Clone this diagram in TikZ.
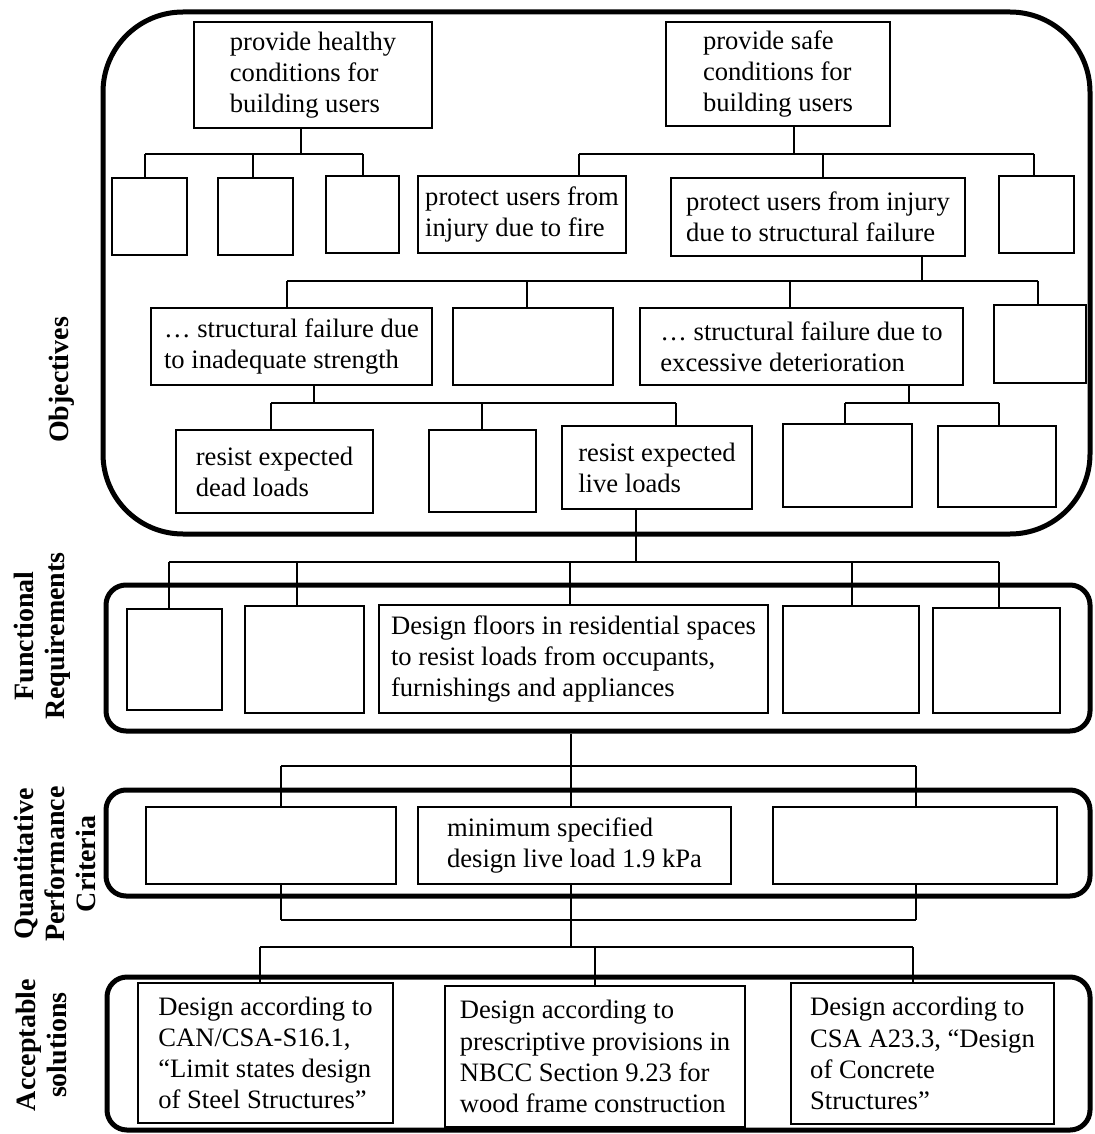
\documentclass[tikz,border=0pt]{standalone}
\usepackage{fontspec}
\setmainfont{Liberation Serif}
\usetikzlibrary{fit}
\newdimen\pxu \pxu=0.5pt
\begin{document}
\begin{tikzpicture}[x=0.5pt,y=-0.5pt,box/.style={draw,line width=1pt,inner sep=0pt,align=left,font=\fontsize{13.3}{15.6}\selectfont},frame/.style={draw,line width=2.5pt,inner sep=0pt},link/.style={line width=0.9pt},lab/.style={rotate=90,align=center,font=\fontsize{14}{15.5}\selectfont\bfseries}]
\useasboundingbox (0,0) rectangle (1094,1134);
% frames of the four levels
\node[frame,rounded corners=40pt,fit={(103,12)(1090,534)}] (objF) {};
\node[frame,rounded corners=10pt,fit={(106,585)(1090,731)}] (funF) {};
\node[frame,rounded corners=10pt,fit={(106,790)(1090,896)}] (qpcF) {};
\node[frame,rounded corners=10pt,fit={(107,977)(1090,1130)}] (accF) {};
\node[lab] (objL) at (62,380) {Objectives};
\node[lab] (funL) at (42,636) {Functional\\Requirements};
\node[lab] (qpcL) at (55,864) {Quantitative\\Performance\\Criteria};
\node[lab] (accL) at (41,1045) {Acceptable\\solutions};
% objectives
\node[box,minimum width=238\pxu,minimum height=106\pxu] (heal) at (313,75) {provide healthy\\conditions for\\building users};
\node[box,minimum width=224\pxu,minimum height=104\pxu] (safe) at (778,74) {provide safe\\conditions for\\building users};
\node[box,minimum width=75\pxu,minimum height=77\pxu] (h1) at (149.5,216.5) {};
\node[box,minimum width=75\pxu,minimum height=77\pxu] (h2) at (255.5,216.5) {};
\node[box,minimum width=73\pxu,minimum height=77\pxu] (h3) at (362.5,214.5) {};
\node[box,minimum width=208\pxu,minimum height=77\pxu] (fire) at (522,214.5) {protect users from\\injury due to fire};
\node[box,minimum width=294\pxu,minimum height=78\pxu] (struct) at (818,217) {protect users from injury\\due to structural failure};
\node[box,minimum width=75\pxu,minimum height=77\pxu] (s4) at (1036.5,214.5) {};
\node[box,minimum width=281\pxu,minimum height=77\pxu] (strength) at (291.5,346.5) {… structural failure due\\to inadequate strength};
\node[box,minimum width=160\pxu,minimum height=77\pxu] (t2) at (533,346.5) {};
\node[box,minimum width=323\pxu,minimum height=77\pxu] (deter) at (801.5,346.5) {… structural failure due to\\excessive deterioration};
\node[box,minimum width=92\pxu,minimum height=78\pxu] (t4) at (1040,344) {};
\node[box,minimum width=197\pxu,minimum height=83\pxu] (dead) at (274.5,471.5) {resist expected\\dead loads};
\node[box,minimum width=107\pxu,minimum height=82\pxu] (d2) at (482.5,471) {};
\node[box,minimum width=190\pxu,minimum height=83\pxu] (live) at (657,467.5) {resist expected\\live loads};
\node[box,minimum width=129\pxu,minimum height=83\pxu] (e1) at (847.5,465.5) {};
\node[box,minimum width=118\pxu,minimum height=81\pxu] (e2) at (997,466.5) {};
% functional requirements
\node[box,minimum width=95\pxu,minimum height=101\pxu] (f1) at (174.5,659.5) {};
\node[box,minimum width=119\pxu,minimum height=107\pxu] (f2) at (304.5,659.5) {};
\node[box,minimum width=389\pxu,minimum height=108\pxu] (floors) at (573.5,659) {Design floors in residential spaces\\to resist loads from occupants,\\furnishings and appliances};
\node[box,minimum width=136\pxu,minimum height=107\pxu] (f4) at (851,659.5) {};
\node[box,minimum width=127\pxu,minimum height=105\pxu] (f5) at (996.5,660.5) {};
% quantitative performance criteria
\node[box,minimum width=250\pxu,minimum height=77\pxu] (q1) at (271,845.5) {};
\node[box,minimum width=313\pxu,minimum height=77\pxu] (minload) at (574.5,845.5) {minimum specified\\design live load 1.9 kPa};
\node[box,minimum width=284\pxu,minimum height=77\pxu] (q3) at (915,845.5) {};
% acceptable solutions
\node[box,minimum width=255\pxu,minimum height=140\pxu] (steel) at (265.5,1053) {Design according to\\CAN/CSA-S16.1,\\“Limit states design\\of Steel Structures”};
\node[box,minimum width=300\pxu,minimum height=141\pxu] (wood) at (595,1056.5) {Design according to\\prescriptive provisions in\\NBCC Section 9.23 for\\wood frame construction};
\node[box,minimum width=263\pxu,minimum height=141\pxu] (conc) at (922.5,1053.5) {Design according to\\CSA A23.3, “Design\\of Concrete\\Structures”};
% tree links
\coordinate (hb) at (301,154);
\draw[link] (heal.south -| hb) -- (hb);
\draw[link] (hb -| 145,0) -- (hb -| 363,0);
\foreach \c/\x in {h1/145,h2/253,h3/363} \draw[link] (hb -| \x,0) -- (\c.north -| \x,0);
\coordinate (sb) at (794,154);
\draw[link] (safe.south -| sb) -- (sb);
\draw[link] (sb -| 579,0) -- (sb -| 1034,0);
\foreach \c/\x in {fire/579,struct/823,s4/1034} \draw[link] (sb -| \x,0) -- (\c.north -| \x,0);
\coordinate (tb) at (922,281);
\draw[link] (struct.south -| tb) -- (tb);
\draw[link] (tb -| 287,0) -- (tb -| 1038,0);
\foreach \c/\x in {strength/287,t2/527,deter/790,t4/1038} \draw[link] (tb -| \x,0) -- (\c.north -| \x,0);
\coordinate (db) at (314,403);
\draw[link] (strength.south -| db) -- (db);
\draw[link] (db -| 271,0) -- (db -| 676,0);
\foreach \c/\x in {dead/271,d2/482,live/676} \draw[link] (db -| \x,0) -- (\c.north -| \x,0);
\coordinate (eb) at (909,403);
\draw[link] (deter.south -| eb) -- (eb);
\draw[link] (eb -| 845,0) -- (eb -| 999,0);
\foreach \c/\x in {e1/845,e2/999} \draw[link] (eb -| \x,0) -- (\c.north -| \x,0);
\coordinate (fb) at (636,562);
\draw[link] (live.south -| fb) -- (fb);
\draw[link] (fb -| 169,0) -- (fb -| 999,0);
\foreach \c/\x in {f1/169,f2/297,floors/570,f4/852,f5/999} \draw[link] (fb -| \x,0) -- (\c.north -| \x,0);
\coordinate (qb) at (571,766);
\draw[link] (funF.south -| qb) -- (qb);
\draw[link] (qb -| 281,0) -- (qb -| 916,0);
\foreach \c/\x in {q1/281,minload/571,q3/916} \draw[link] (qb -| \x,0) -- (\c.north -| \x,0);
\coordinate (jb) at (571,920);
\draw[link] (jb -| 281,0) -- (jb -| 916,0);
\foreach \c/\x in {q1/281,q3/916} \draw[link] (\c.south -| \x,0) -- (jb -| \x,0);
\coordinate (ab) at (571,947);
\draw[link] (minload.south -| ab) -- (ab);
\draw[link] (ab -| 260,0) -- (ab -| 913,0);
\foreach \c/\x in {steel/260,wood/595,conc/913} \draw[link] (ab -| \x,0) -- (\c.north -| \x,0);
\end{tikzpicture}
\end{document}
